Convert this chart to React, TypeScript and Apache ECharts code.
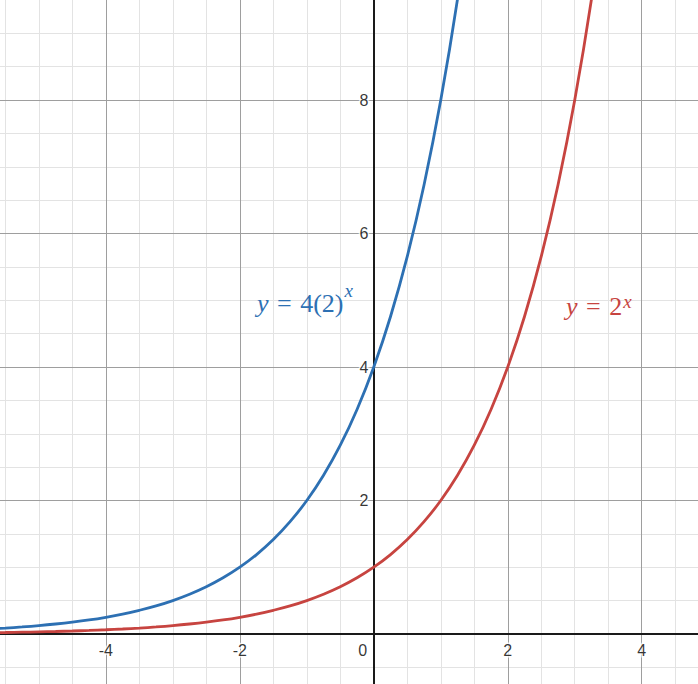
import { useEffect, useRef } from "react";
import * as echarts from "echarts";

// visible window of the graph
const X_MIN = -5.58;
const X_MAX = 4.84;
const Y_MIN = -0.75;
const Y_MAX = 9.5;

// y = 4(2)^x
const blueX = [-5.75, -5.5, -5.25, -5, -4.75, -4.5, -4.25, -4, -3.75, -3.5, -3.25, -3, -2.75, -2.5, -2.25, -2, -1.75, -1.5, -1.25, -1, -0.75, -0.5, -0.25, 0, 0.25, 0.5, 0.75, 1, 1.25, 1.5];
const blueY = [0.074, 0.088, 0.105, 0.125, 0.149, 0.177, 0.21, 0.25, 0.297, 0.354, 0.42, 0.5, 0.595, 0.707, 0.841, 1, 1.189, 1.414, 1.682, 2, 2.378, 2.828, 3.364, 4, 4.757, 5.657, 6.727, 8, 9.514, 11.314];

// y = 2^x
const redX = [-5.75, -5.5, -5.25, -5, -4.75, -4.5, -4.25, -4, -3.75, -3.5, -3.25, -3, -2.75, -2.5, -2.25, -2, -1.75, -1.5, -1.25, -1, -0.75, -0.5, -0.25, 0, 0.25, 0.5, 0.75, 1, 1.25, 1.5, 1.75, 2, 2.25, 2.5, 2.75, 3, 3.25, 3.5];
const redY = [0.019, 0.022, 0.026, 0.031, 0.037, 0.044, 0.053, 0.063, 0.074, 0.088, 0.105, 0.125, 0.149, 0.177, 0.21, 0.25, 0.297, 0.354, 0.42, 0.5, 0.595, 0.707, 0.841, 1, 1.189, 1.414, 1.682, 2, 2.378, 2.828, 3.364, 4, 4.757, 5.657, 6.727, 8, 9.514, 11.314];

const xTicks = [-4, -2, 2, 4];
const yTicks = [2, 4, 6, 8];

const xMinorLines = [-5.5, -5, -4.5, -3.5, -3, -2.5, -1.5, -1, -0.5, 0.5, 1, 1.5, 2.5, 3, 3.5, 4.5];
const yMinorLines = [-0.5, 0.5, 1, 1.5, 2.5, 3, 3.5, 4.5, 5, 5.5, 6.5, 7, 7.5, 8.5, 9];

const BLUE = "#2d70b3";
const RED = "#c74440";
const MATH_FONT = "'Liberation Serif', 'Times New Roman', serif";
const LABEL_FONT = "'Liberation Sans', Arial, sans-serif";

function zip(xs: number[], ys: number[]) {
  return xs.map((x, i) => [x, ys[i]]);
}

function gridLines(name: string, xs: number[], ys: number[], color: string, width: number, z: number) {
  return {
    name,
    type: "line",
    data: [],
    silent: true,
    z,
    markLine: {
      silent: true,
      symbol: "none",
      label: { show: false },
      animation: false,
      lineStyle: { color, width, type: "solid" },
      data: [...xs.map((v) => ({ xAxis: v })), ...ys.map((v) => ({ yAxis: v }))],
    },
  };
}

// rich styles for the "y = ...^x" labels
function mathRich(color: string, lineHeight: number, supPad: number) {
  const base = { fill: color, fontSize: 26, fontFamily: MATH_FONT, lineHeight, verticalAlign: "bottom" };
  return {
    v: { ...base, fontStyle: "italic" },
    o: { ...base, padding: [0, 2, 0, 2] },
    n: { ...base },
    s: { fill: color, fontSize: 19, fontStyle: "italic", fontFamily: MATH_FONT, lineHeight: 19, verticalAlign: "top", padding: [supPad, 0, 0, 1] },
  };
}

export default function App() {
  const chartRef = useRef<HTMLDivElement>(null);

  useEffect(() => {
    if (!chartRef.current) return;
    const chart = echarts.init(chartRef.current, null, { renderer: "svg" });

    const tickLabel = {
      show: true,
      color: "#000",
      fontSize: 16,
      fontFamily: LABEL_FONT,
      textBorderColor: "#fff",
      textBorderWidth: 3,
    };

    const option: any = {
      animation: false,
      backgroundColor: "#fff",
      grid: { left: 0, right: 0, top: 0, bottom: 0 },
      xAxis: { type: "value", min: X_MIN, max: X_MAX, show: false, splitLine: { show: false } },
      yAxis: { type: "value", min: Y_MIN, max: Y_MAX, show: false, splitLine: { show: false } },
      series: [
        gridLines("minor", xMinorLines, yMinorLines, "#e3e3e3", 1, 1),
        gridLines("major", xTicks, yTicks, "#9e9e9e", 1, 2),
        gridLines("axes", [0], [0], "#1a1a1a", 2, 3),
        {
          name: "y = 4(2)^x",
          type: "line",
          data: zip(blueX, blueY),
          showSymbol: false,
          smooth: 0.4,
          z: 5,
          lineStyle: { color: BLUE, width: 2.8 },
        },
        {
          name: "y = 2^x",
          type: "line",
          data: zip(redX, redY),
          showSymbol: false,
          smooth: 0.4,
          z: 5,
          lineStyle: { color: RED, width: 2.8 },
        },
        {
          name: "xTicks",
          type: "scatter",
          symbolSize: 1,
          itemStyle: { color: "transparent" },
          z: 6,
          data: [
            ...xTicks.map((v) => ({ value: [v, 0], label: { ...tickLabel, position: "bottom", distance: 8, formatter: String(v) } })),
            { value: [0, 0], label: { ...tickLabel, position: "bottom", distance: 8, offset: [-11, 0], formatter: "0" } },
          ],
        },
        {
          name: "yTicks",
          type: "scatter",
          symbolSize: 1,
          itemStyle: { color: "transparent" },
          z: 6,
          data: yTicks.map((v) => ({ value: [0, v], label: { ...tickLabel, position: "left", distance: 5, formatter: String(v) } })),
        },
      ],
      graphic: [
        {
          type: "text",
          left: 257,
          top: 278,
          z: 10,
          style: {
            text: "{v|y}{o| = }{n|4(2)}{s|x}",
            fill: BLUE,
            rich: mathRich(BLUE, 38, 3),
          },
        },
        {
          type: "text",
          left: 566,
          top: 286,
          z: 10,
          style: {
            text: "{v|y}{o| = }{n|2}{s|x}",
            fill: RED,
            rich: mathRich(RED, 33, 6),
          },
        },
      ],
    };

    chart.setOption(option);
    return () => {
      chart.dispose();
    };
  }, []);

  return (
    <div
      ref={chartRef}
      style={{ position: "fixed", left: 0, top: 0, width: 698, height: 684, background: "#fff" }}
    />
  );
}
